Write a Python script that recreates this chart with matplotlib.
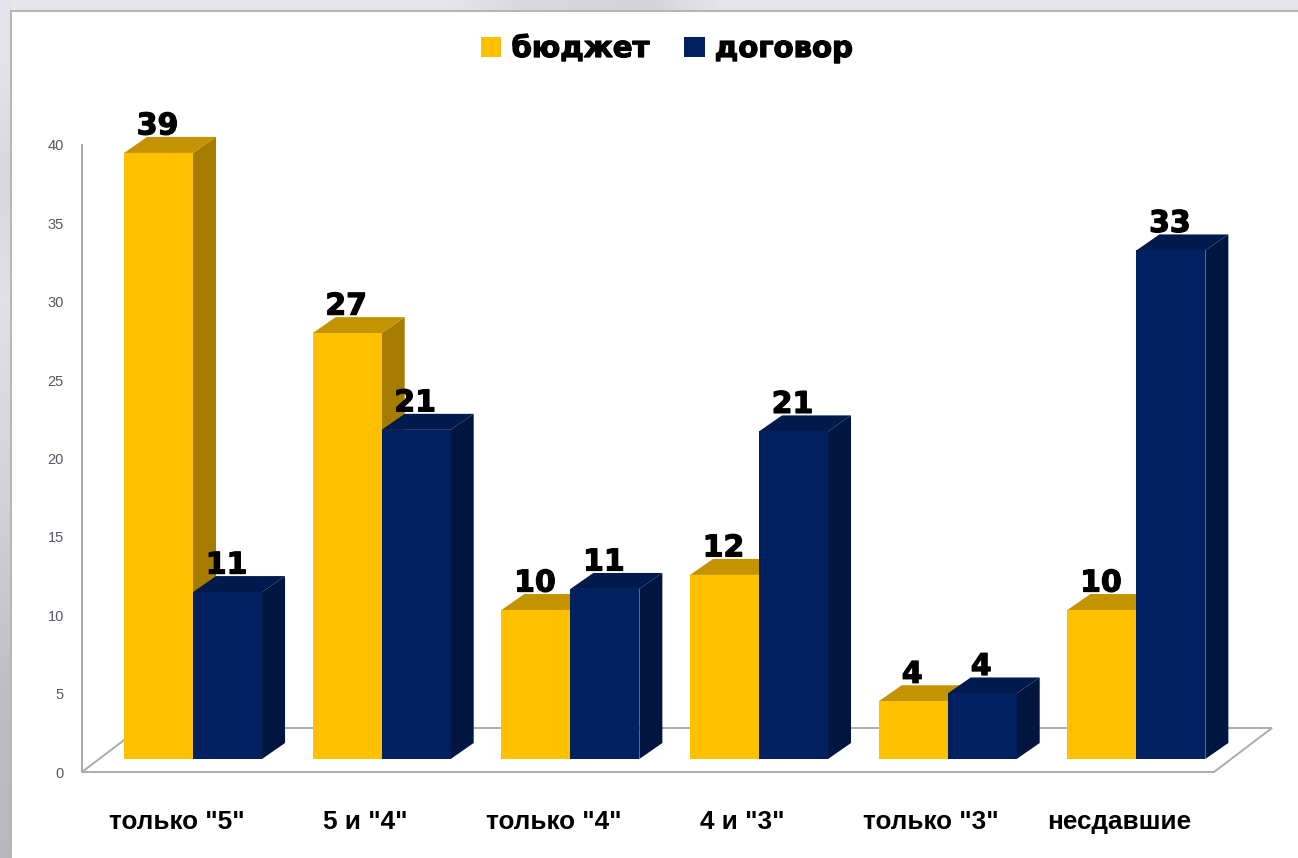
import numpy as np
import matplotlib
matplotlib.use("Agg")
import matplotlib.pyplot as plt
import matplotlib.patheffects as pe
from matplotlib.patches import Patch, Polygon, Rectangle

categories = ['только "5"', '5 и "4"', 'только "4"', '4 и "3"', 'только "3"', 'несдавшие']
budget = [38.85, 27.3, 9.55, 11.8, 3.7, 9.55]
contract = [10.7, 21.1, 10.9, 21.0, 4.2, 32.6]
series_names = ['бюджет', 'договор']
y_ticks = [0, 5, 10, 15, 20, 25, 30, 35, 40]

W, H = 1298, 858
L, R, T, B = 82, 1214, 145, 772
PX_X = (R - L) / len(categories)   # pixels per category
PX_Y = (B - T) / 40                # pixels per axis unit
BAR_SCALE = 15.6 / PX_Y
YEL = ('#FFC000', '#C49400', '#A57C00')
BLU = ('#002060', '#001A4D', '#00153F')
HEAVY = [pe.withStroke(linewidth=0.9, foreground='black')]

fig = plt.figure(figsize=(W / 100, H / 100), dpi=100, facecolor='#E4E5EA')

# window background
bg = fig.add_axes([0, 0, 1, 1], zorder=0)
bg.axis('off')
bg.set_xlim(0, W); bg.set_ylim(H, 0)
left_band = np.interp(np.arange(H), [0, 60, 180, 300, 500, 700, 858],
                      [.89, .89, .84, .88, .82, .74, .72]).reshape(-1, 1)
bg.imshow(np.dstack([left_band, left_band, left_band + .03]).clip(0, 1),
          extent=(0, 10, H, 0), aspect='auto')
top_band = np.interp(np.arange(W), [0, 440, 520, 640, 720, 1298],
                     [.90, .90, .85, .83, .90, .90]).reshape(1, -1)
bg.imshow(np.dstack([top_band, top_band, top_band + .01]).clip(0, 1),
          extent=(10, W, 10, 0), aspect='auto')
bg.add_patch(Rectangle((10.5, 10.5), W, H, fc='white', ec='#B4B4B8', lw=1.4))
bg.set_xlim(0, W); bg.set_ylim(H, 0)

ax = fig.add_axes([L / W, 1 - B / H, (R - L) / W, (B - T) / H], zorder=1)
ax.set_xlim(0, len(categories))
ax.set_ylim(0, 40)
ax.patch.set_alpha(0)
for s in ('top', 'right', 'bottom'):
    ax.spines[s].set_visible(False)
ax.spines['left'].set_color('#A6A6A6')
ax.spines['left'].set_linewidth(1.3)
ax.set_xticks([])
ax.set_yticks(y_ticks)
ax.tick_params(axis='y', length=0, pad=13, labelsize=10.5, labelcolor='#555566')
for t in ax.get_yticklabels():
    t.set_fontfamily('Liberation Sans')

# floor
fx, fy = 58 / PX_X, 44 / PX_Y
ax.add_patch(Polygon([(0, 0), (fx, fy), (len(categories) + fx, fy), (len(categories), 0)],
                     closed=True, fc='white', ec='#ABABAB', lw=1.4, clip_on=False, zorder=1))


def bar3d(x0, w, v, cols, z):
    base = 13 / PX_Y
    dx, dy = 23 / PX_X, 16 / PX_Y
    top = base + v * BAR_SCALE
    x1 = x0 + w
    kw = dict(closed=True, lw=0, clip_on=False, zorder=z)
    ax.add_patch(Polygon([(x1, base), (x1 + dx, base + dy), (x1 + dx, top + dy), (x1, top)], fc=cols[2], **kw))
    ax.add_patch(Polygon([(x0, top), (x0 + dx, top + dy), (x1 + dx, top + dy), (x1, top)], fc=cols[1], **kw))
    ax.add_patch(Rectangle((x0, base), w, top - base, fc=cols[0], lw=0, clip_on=False, zorder=z))
    ax.text(x0 + w / 2 - 1 / PX_X, top + dy + 2.5 / PX_Y, f'{v:.0f}', ha='center', va='baseline', fontsize=21.5,
            fontweight='bold', family='DejaVu Sans', color='black', clip_on=False, zorder=20,
            path_effects=HEAVY)


bw = 69 / PX_X
shift = 16.7 / PX_X
for i, cat in enumerate(categories):
    c = i + 0.5 + shift
    bar3d(c - bw, bw, budget[i], YEL, 5 + i * 2)
    bar3d(c, bw, contract[i], BLU, 6 + i * 2)
    ax.text(i + 0.5, -3.2, cat, ha='center', va='center', fontsize=18.8, fontweight='bold',
            family='Liberation Sans', color='black', clip_on=False)

handles = [Patch(fc=YEL[0], lw=0), Patch(fc=BLU[0], lw=0)]
leg = fig.legend(handles, series_names, loc='center', bbox_to_anchor=(667 / W, 1 - 49 / H), ncol=2,
                 frameon=False, handlelength=0.69, handleheight=0.7, handletextpad=0.35,
                 columnspacing=1.2, prop=dict(family='DejaVu Sans', weight='bold', size=21))
for t in leg.get_texts():
    t.set_path_effects(HEAVY)

fig.savefig('out.png', dpi=100, facecolor=fig.get_facecolor())
